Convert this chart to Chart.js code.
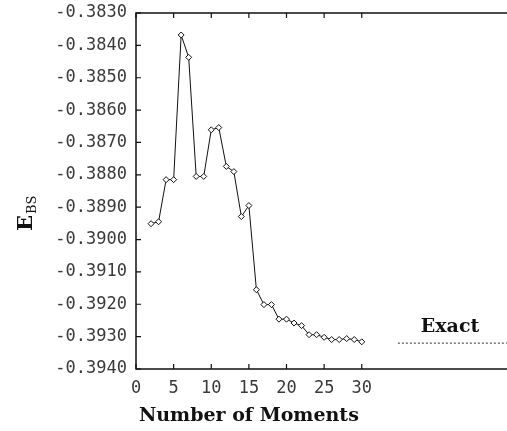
<!DOCTYPE html>
<html>
<head>
<meta charset="utf-8">
<script src="https://cdn.jsdelivr.net/npm/chart.js@4/dist/chart.umd.min.js"></script>
<style>
  html, body { margin: 0; padding: 0; background: #fff; overflow: hidden; }
  #myChart { display: block; }
</style>
</head>
<body>
<canvas id="myChart" width="507" height="431"></canvas>
<script>
'use strict'
// values
const moments = [2, 3, 4, 5, 6, 7, 8, 9, 10, 11, 12, 13, 14, 15, 16,
                 17, 18, 19, 20, 21, 22, 23, 24, 25, 26, 27, 28, 29, 30];
const energies = [-0.38951, -0.38945, -0.38815, -0.38815, -0.38368, -0.38437,
                  -0.38805, -0.38805, -0.38661, -0.38654, -0.38774, -0.38790,
                  -0.38929, -0.38895, -0.39155, -0.39201, -0.39201, -0.39246,
                  -0.39246, -0.39258, -0.39266, -0.39294, -0.39294, -0.39302,
                  -0.39309, -0.39309, -0.39306, -0.39309, -0.39316];
const exactValue = -0.39320;
const exactRange = [34.8, 49.3];
const xTicks = [0, 5, 10, 15, 20, 25, 30];
const yTicks = [-0.3830, -0.3840, -0.3850, -0.3860, -0.3870, -0.3880,
                -0.3890, -0.3900, -0.3910, -0.3920, -0.3930, -0.3940];
const xTitle = 'Number of Moments';
const yTitle = ['E', 'BS'];
const exactLabel = 'Exact';

const tickFont = { family: 'DejaVu Sans Mono', size: 17 };
const serifBold = 'bold 19px "DejaVu Serif"';

//Draws the frame with inward ticks plus the titles
const framePlugin = {
    id: 'frame',
    afterDraw(chart) {
        const ctx = chart.ctx;
        const a = chart.chartArea;
        const xs = chart.scales.x;
        const ys = chart.scales.y;
        ctx.save();
        ctx.strokeStyle = '#111';
        ctx.lineWidth = 1.5;
        ctx.beginPath();
        ctx.moveTo(chart.width, a.top);
        ctx.lineTo(a.left, a.top);
        ctx.lineTo(a.left, a.bottom);
        ctx.lineTo(chart.width, a.bottom);
        ctx.stroke();

        ctx.lineWidth = 1.2;
        ctx.beginPath();
        yTicks.forEach(v => {
            const y = ys.getPixelForValue(v);
            ctx.moveTo(a.left, y);
            ctx.lineTo(a.left + 5, y);
        });
        xTicks.forEach(v => {
            const x = xs.getPixelForValue(v);
            ctx.moveTo(x, a.bottom);
            ctx.lineTo(x, a.bottom - 5);
            ctx.moveTo(x, a.top);
            ctx.lineTo(x, a.top + 5);
        });
        ctx.stroke();

        ctx.fillStyle = '#111';
        //x title sits under the 0..30 range
        ctx.font = serifBold;
        ctx.textAlign = 'center';
        ctx.textBaseline = 'middle';
        const cx = (xs.getPixelForValue(xTicks[0]) + xs.getPixelForValue(xTicks[xTicks.length - 1])) / 2;
        ctx.fillText(xTitle, cx, 416);

        //label of the exact line
        ctx.fillText(exactLabel, 450, 327);

        //rotated y title with subscript
        ctx.translate(24, 231);
        ctx.rotate(-Math.PI / 2);
        ctx.textAlign = 'left';
        ctx.textBaseline = 'alphabetic';
        ctx.font = 'bold 21px "DejaVu Serif"';
        ctx.fillText(yTitle[0], 0, 8);
        const w = ctx.measureText(yTitle[0]).width;
        ctx.font = '13px "DejaVu Serif"';
        ctx.fillText(yTitle[1], w + 1, 12);
        ctx.restore();
    }
};

const config = {
    type: 'scatter',
    data: {
        datasets: [{
            data: moments.map((m, i) => ({ x: m, y: energies[i] })),
            showLine: true,
            borderColor: '#111',
            borderWidth: 1,
            pointStyle: 'rectRot',
            pointRadius: 3,
            pointBackgroundColor: '#fff',
            pointBorderColor: '#111',
            pointBorderWidth: 1
        }, {
            data: exactRange.map(x => ({ x: x, y: exactValue })),
            showLine: true,
            borderColor: '#333',
            borderWidth: 1,
            borderDash: [2, 2],
            pointRadius: 0
        }]
    },
    options: {
        responsive: false,
        animation: false,
        layout: { autoPadding: false, padding: { top: 13, right: 0, bottom: 0, left: 0 } },
        plugins: { legend: { display: false }, tooltip: { enabled: false } },
        scales: {
            x: {
                type: 'linear',
                min: 0,
                max: 49.3,
                afterBuildTicks: s => { s.ticks = xTicks.map(v => ({ value: v })); },
                afterFit: s => { s.height = 62; s.paddingRight = 0; },
                grid: { display: false, drawTicks: false },
                border: { display: false },
                ticks: { font: tickFont, color: '#3a3a3a', padding: 9, maxRotation: 0 }
            },
            y: {
                min: -0.394,
                max: -0.383,
                afterBuildTicks: s => { s.ticks = yTicks.map(v => ({ value: v })); },
                afterFit: s => { s.width = 136; s.paddingTop = 0; s.paddingBottom = 0; },
                grid: { display: false, drawTicks: false },
                border: { display: false },
                ticks: {
                    font: tickFont,
                    color: '#3a3a3a',
                    padding: 9,
                    callback: v => Number(v).toFixed(4)
                }
            }
        }
    },
    plugins: [framePlugin]
};

let myChart = new Chart(document.getElementById('myChart'), config);
</script>
</body>
</html>
